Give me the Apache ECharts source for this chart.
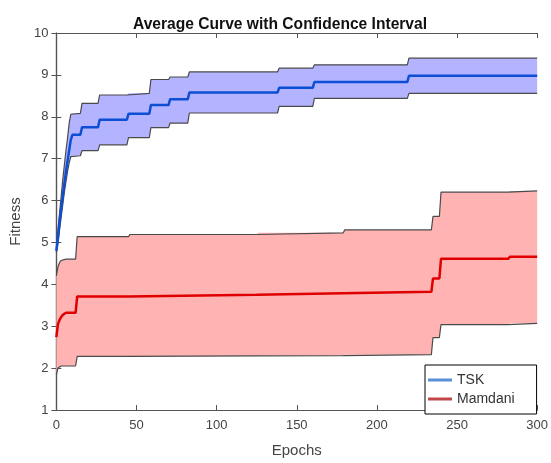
<!DOCTYPE html>
<html>
<head>
<meta charset="utf-8">
<title>Average Curve with Confidence Interval</title>
<script src="https://cdn.jsdelivr.net/npm/echarts@6/dist/echarts.min.js"></script>
<style>
  html, body { margin: 0; padding: 0; background: #fff; }
  #chart { width: 551px; height: 463px; }
</style>
</head>
<body>
<div id="chart"></div>
<script>
// TSK: mean curve and confidence band
const tskEpochs = [0, 1, 2, 3, 4, 5, 6, 7, 8, 9, 10, 15, 16, 26, 27, 44, 45, 58, 59, 70, 71, 82, 83, 138, 139, 160, 161, 219, 220, 300];
const tskMean  = [4.8, 5.1, 5.5, 5.8, 6.1, 6.4, 6.7, 6.95, 7.2, 7.45, 7.57, 7.57, 7.75, 7.75, 7.93, 7.93, 8.07, 8.07, 8.28, 8.28, 8.42, 8.42, 8.58, 8.58, 8.69, 8.69, 8.83, 8.83, 8.98, 8.98];
const tskUpper = [4.85, 5.3, 5.7, 6.1, 6.5, 6.85, 7.2, 7.5, 7.85, 8.06, 8.08, 8.08, 8.32, 8.32, 8.52, 8.52, 8.56, 8.56, 8.89, 8.89, 8.95, 8.95, 9.07, 9.07, 9.16, 9.16, 9.24, 9.24, 9.4, 9.4];
const tskLower = [4.75, 5.0, 5.3, 5.6, 5.9, 6.2, 6.45, 6.7, 6.9, 7.05, 7.07, 7.07, 7.19, 7.19, 7.33, 7.33, 7.5, 7.5, 7.74, 7.74, 7.85, 7.85, 8.09, 8.09, 8.25, 8.25, 8.44, 8.44, 8.56, 8.56];

// Mamdani
const mamEpochs = [0, 1, 2, 3, 4, 6, 12, 13, 45, 46, 125, 126, 179, 180, 234, 235, 239, 240, 282, 283, 300];
const mamMean  = [2.74, 3.05, 3.15, 3.22, 3.27, 3.32, 3.32, 3.71, 3.71, 3.75, 3.75, 3.79, 3.79, 3.82, 3.82, 4.14, 4.14, 4.61, 4.61, 4.66, 4.66];
const mamUpper = [4.2, 4.42, 4.52, 4.57, 4.6, 4.6, 4.6, 5.14, 5.14, 5.19, 5.19, 5.23, 5.23, 5.3, 5.3, 5.62, 5.62, 6.2, 6.2, 6.23, 6.23];
const mamLower = [1.85, 2.0, 2.03, 2.05, 2.05, 2.05, 2.05, 2.28, 2.28, 2.29, 2.29, 2.3, 2.3, 2.32, 2.32, 2.73, 2.73, 3.04, 3.04, 3.07, 3.07];

const xTicks = { min: 0, max: 300, interval: 50 };
const yTicks = { min: 1, max: 10, interval: 1 };

const pairs = (xs, ys) => xs.map((x, i) => [x, ys[i]]);

const chart = echarts.init(document.getElementById('chart'));

const font = 'Liberation Sans, Arial, sans-serif';
const frameColor = '#555';
const labelColor = '#444';
const edgeColor = '#4a4a4a';

// filled band between lower and upper, drawn once as a polygon
function bandFill(name, xs, hi, lo, fill) {
  return {
    name: name + ' band',
    type: 'custom',
    data: xs.map((x, i) => [x, lo[i], hi[i]]),
    encode: { x: 0, y: [1, 2] },
    silent: true,
    z: 1,
    renderItem(params, api) {
      if (params.dataIndex !== 0) return null;
      const top = xs.map((x, i) => api.coord([x, hi[i]]));
      const bottom = xs.map((x, i) => api.coord([x, lo[i]])).reverse();
      return {
        type: 'polygon',
        shape: { points: top.concat(bottom) },
        style: { fill: fill, stroke: null },
      };
    },
  };
}

function edgeLine(name, xs, ys) {
  return {
    name: name,
    type: 'line',
    data: pairs(xs, ys),
    symbol: 'none',
    silent: true,
    lineStyle: { color: edgeColor, width: 1.2 },
    z: 3,
  };
}

const option = {
  animation: false,
  backgroundColor: '#fff',
  title: {
    text: 'Average Curve with Confidence Interval',
    left: 128,
    top: 12,
    textStyle: { fontFamily: font, fontSize: 15.6, fontWeight: 'bold', color: '#111' },
  },
  grid: { left: 53, right: 13, top: 33, bottom: 46, containLabel: false },
  legend: {
    orient: 'vertical',
    left: 425,
    top: 365,
    padding: [7, 22, 7, 3],
    backgroundColor: '#fff',
    borderColor: '#000',
    borderWidth: 1,
    itemWidth: 24,
    itemHeight: 3,
    itemGap: 3,
    icon: 'rect',
    textStyle: { fontFamily: font, fontSize: 14, color: '#333', lineHeight: 16 },
    data: [
      { name: 'TSK', itemStyle: { color: '#5b8fd8' } },
      { name: 'Mamdani', itemStyle: { color: '#c04848' } },
    ],
  },
  xAxis: [
    {
      type: 'value',
      position: 'bottom',
      ...xTicks,
      name: 'Epochs',
      nameLocation: 'middle',
      nameGap: 33,
      nameTextStyle: { fontFamily: font, fontSize: 15, color: labelColor },
      axisLine: { lineStyle: { color: frameColor, width: 1.2 } },
      axisTick: { inside: true, length: 5, lineStyle: { color: frameColor } },
      axisLabel: { margin: 9, fontFamily: font, fontSize: 13, color: labelColor },
      splitLine: { show: false },
    },
    {
      type: 'value',
      position: 'top',
      ...xTicks,
      axisLine: { lineStyle: { color: frameColor, width: 1.2 } },
      axisTick: { inside: true, length: 5, lineStyle: { color: frameColor } },
      axisLabel: { show: false },
      splitLine: { show: false },
    },
  ],
  yAxis: [
    {
      type: 'value',
      position: 'left',
      ...yTicks,
      name: 'Fitness',
      nameLocation: 'middle',
      nameGap: 23,
      nameTextStyle: { fontFamily: font, fontSize: 15, color: labelColor },
      axisLine: { show: true, lineStyle: { color: frameColor, width: 1.2 } },
      axisTick: { show: true, inside: true, length: 5, lineStyle: { color: frameColor } },
      axisLabel: { margin: 8, fontFamily: font, fontSize: 13, color: labelColor },
      splitLine: { show: false },
    },
    {
      type: 'value',
      position: 'right',
      ...yTicks,
      axisLine: { show: true, lineStyle: { color: frameColor, width: 1.2 } },
      axisTick: { show: true, inside: true, length: 5, lineStyle: { color: frameColor } },
      axisLabel: { show: false },
      splitLine: { show: false },
    },
  ],
  series: [
    bandFill('TSK', tskEpochs, tskUpper, tskLower, '#b3b3ff'),
    edgeLine('TSK upper', tskEpochs, tskUpper),
    edgeLine('TSK lower', tskEpochs, tskLower),
    {
      name: 'TSK',
      type: 'line',
      data: pairs(tskEpochs, tskMean),
      symbol: 'none',
      lineStyle: { color: '#0d4fd4', width: 2.5 },
      itemStyle: { color: '#0d4fd4' },
      z: 4,
    },
    bandFill('Mamdani', mamEpochs, mamUpper, mamLower, '#ffb3b3'),
    edgeLine('Mamdani upper', mamEpochs, mamUpper),
    edgeLine('Mamdani lower', mamEpochs, mamLower),
    {
      name: 'Mamdani',
      type: 'line',
      data: pairs(mamEpochs, mamMean),
      symbol: 'none',
      lineStyle: { color: '#e00000', width: 2.5 },
      itemStyle: { color: '#e00000' },
      z: 4,
    },
  ],
};

chart.setOption(option);

window.onresize = () => {
  chart.resize();
};
</script>
</body>
</html>
